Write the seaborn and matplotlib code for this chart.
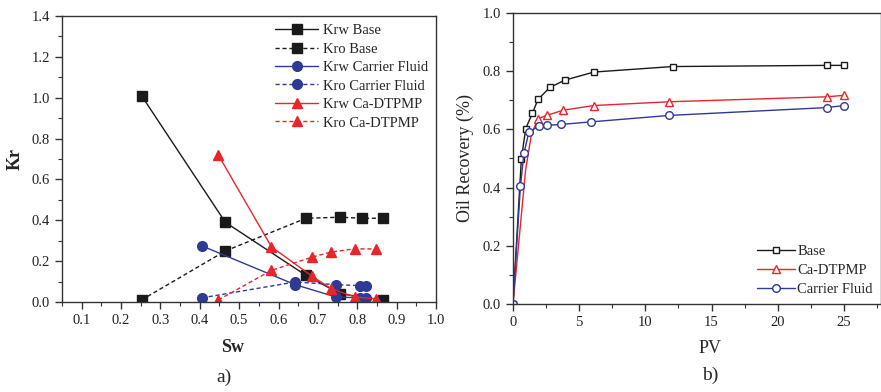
import matplotlib
matplotlib.use("Agg")
import matplotlib.pyplot as plt
from matplotlib.ticker import MultipleLocator
import seaborn as sns

# Panel a) relative permeability data
sw_base = [0.252, 0.465, 0.67, 0.757, 0.865]
krw_base = [1.01, 0.39, 0.13, 0.04, 0.01]
sw_base_o = [0.252, 0.465, 0.67, 0.757, 0.812, 0.865]
kro_base = [0.01, 0.25, 0.41, 0.415, 0.41, 0.41]

sw_carrier = [0.405, 0.642, 0.745, 0.808, 0.821]
krw_carrier = [0.275, 0.085, 0.025, 0.02, 0.02]
kro_carrier = [0.02, 0.098, 0.085, 0.08, 0.08]

sw_ca = [0.447, 0.582, 0.686, 0.734, 0.793, 0.848]
krw_ca = [0.72, 0.27, 0.125, 0.065, 0.025, 0.015]
kro_ca = [0.01, 0.155, 0.22, 0.245, 0.26, 0.26]

# Panel b) oil recovery data
pv_base = [0.0, 0.63, 0.96, 1.46, 1.89, 2.78, 3.9, 6.1, 12.05, 23.7, 25.0]
rec_base = [0.0, 0.497, 0.603, 0.655, 0.703, 0.744, 0.769, 0.797, 0.816, 0.82, 0.82]
pv_ca = [0.0, 0.95, 1.4, 1.9, 2.6, 3.8, 6.1, 11.8, 23.7, 25.0]
rec_ca = [0.0, 0.46, 0.585, 0.637, 0.649, 0.666, 0.682, 0.695, 0.712, 0.717]
pv_carrier = [0.0, 0.56, 0.83, 1.21, 1.97, 2.6, 3.59, 5.93, 11.8, 23.7, 25.0]
rec_carrier = [0.0, 0.405, 0.519, 0.592, 0.611, 0.614, 0.617, 0.626, 0.648, 0.675, 0.682]

BLACK = "#1a1a1a"
BLUE = "#2e3a94"
RED = "#e8262a"

sns.set_style("ticks")
plt.rcParams["font.family"] = ["Liberation Serif", "DejaVu Serif"]
plt.rcParams["font.size"] = 10

fig = plt.figure(figsize=(8.81, 3.92), dpi=100)
ax1 = fig.add_axes([62 / 881, 1 - 302 / 392, 374 / 881, 286 / 392])
ax2 = fig.add_axes([513 / 881, 1 - 304 / 392, 368 / 881, 291 / 392])


def draw(ax, x, y, color, ls, marker, label, ms, mfc=None, lw=1.0, every=None):
    sns.lineplot(x=x, y=y, ax=ax, sort=False, estimator=None, color=color,
                 linestyle=ls, marker=marker, markersize=ms, label=label,
                 markerfacecolor=mfc if mfc else color, markeredgecolor=color,
                 markeredgewidth=1.0, linewidth=lw, markevery=every)


# a) relative permeability
draw(ax1, sw_base, krw_base, BLACK, "-", "s", "Krw Base", 6.5)
draw(ax1, sw_base_o, kro_base, BLACK, (0, (3, 2)), "s", "Kro Base", 6.5)
draw(ax1, sw_carrier, krw_carrier, BLUE, "-", "o", "Krw Carrier Fluid", 7)
draw(ax1, sw_carrier, kro_carrier, BLUE, (0, (3, 2)), "o", "Kro Carrier Fluid", 7)
draw(ax1, sw_ca, krw_ca, RED, "-", "^", "Krw Ca-DTPMP", 7)
draw(ax1, sw_ca, kro_ca, RED, (0, (3, 2)), "^", "Kro Ca-DTPMP", 7)

ax1.set_xlim(0.05, 1.0)
ax1.set_ylim(0.0, 1.4)
ax1.xaxis.set_major_locator(MultipleLocator(0.1))
ax1.xaxis.set_minor_locator(MultipleLocator(0.05))
ax1.yaxis.set_major_locator(MultipleLocator(0.2))
ax1.yaxis.set_minor_locator(MultipleLocator(0.1))
ax1.xaxis.set_major_formatter(plt.FuncFormatter(lambda v, p: f"{v:.1f}"))
ax1.yaxis.set_major_formatter(plt.FuncFormatter(lambda v, p: f"{v:.1f}"))
ax1.set_xlabel("Sw", fontsize=13, fontweight="bold", labelpad=9)
ax1.xaxis.set_label_coords(0.457, -0.13)
ax1.set_ylabel("Kr", fontsize=13, fontweight="bold", labelpad=6)
ax1.legend(loc="upper right", frameon=False, fontsize=10.5, handlelength=3.0,
           handletextpad=0.3, labelspacing=0.36, borderaxespad=0.15)
ax1.text(0.433, -0.262, "a)", transform=ax1.transAxes, ha="center", va="center",
         fontsize=14)

# b) oil recovery
draw(ax2, pv_base, rec_base, BLACK, "-", "s", "Base", 5, "white")
draw(ax2, pv_ca, rec_ca, RED, "-", "^", "Ca-DTPMP", 5.5, "white",
     every=[0, 3, 4, 5, 6, 7, 8, 9])
draw(ax2, pv_carrier, rec_carrier, BLUE, "-", "o", "Carrier Fluid", 5.5, "white")

ax2.set_xlim(0, 27.8)
ax2.set_ylim(0.0, 1.0)
ax2.xaxis.set_major_locator(MultipleLocator(5))
ax2.xaxis.set_minor_locator(MultipleLocator(2.5))
ax2.yaxis.set_major_locator(MultipleLocator(0.2))
ax2.yaxis.set_minor_locator(MultipleLocator(0.1))
ax2.yaxis.set_major_formatter(plt.FuncFormatter(lambda v, p: f"{v:.1f}"))
ax2.set_xlabel("PV", fontsize=13, labelpad=9)
ax2.xaxis.set_label_coords(0.535, -0.125)
ax2.set_ylabel("Oil Recovery (%)", fontsize=13, labelpad=6)
ax2.legend(loc="lower right", frameon=False, fontsize=10.5, handlelength=2.6,
           handletextpad=0.15, labelspacing=0.38, borderaxespad=0.15)
ax2.text(0.535, -0.245, "b)", transform=ax2.transAxes, ha="center", va="center",
         fontsize=14)

for ax in (ax1, ax2):
    for s in ax.spines.values():
        s.set_color("#333333")
        s.set_linewidth(1.0)
    ax.tick_params(which="major", direction="out", length=5, width=1.0,
                   colors="#333333", labelsize=10.5, labelcolor="#222222")
    ax.tick_params(which="minor", direction="out", length=3, width=0.8,
                   colors="#333333")

fig.savefig("out.png", dpi=100)
